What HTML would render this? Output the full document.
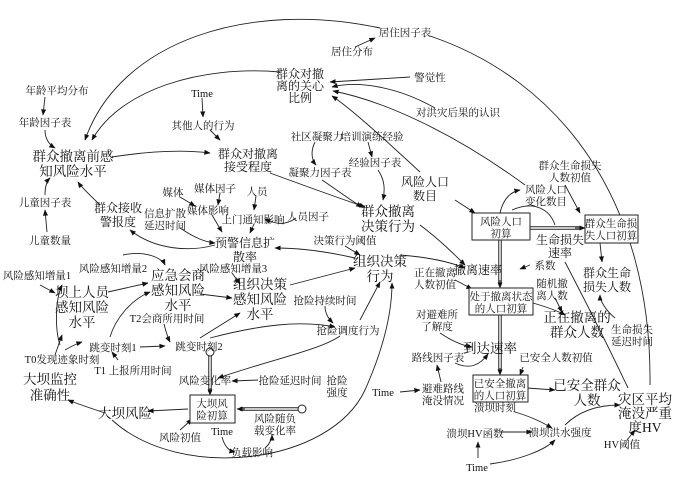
<!DOCTYPE html>
<html><head><meta charset="utf-8"><style>
body{margin:0;background:#fff}
svg{display:block}
text{font-family:"Liberation Serif","Noto Serif CJK SC",serif;fill:#111;text-anchor:middle}
.s{font-size:10.5px}.m{font-size:12px}.b{font-size:13.5px}
path,line{fill:none;stroke:#222;stroke-width:0.9}
.a{marker-end:url(#ar)}
rect{fill:#fff;stroke:#222;stroke-width:1}
.p{stroke:#222;stroke-width:3.5}.pi{stroke:#fff;stroke-width:1.5}
</style></head><body>
<svg width="680" height="479" viewBox="0 0 680 479" xmlns="http://www.w3.org/2000/svg">
<defs><marker id="ar" viewBox="0 0 10 10" refX="9" refY="5" markerWidth="7" markerHeight="7" orient="auto"><path d="M0,1 L10,5 L0,9 z" style="fill:#111;stroke:none"/></marker></defs>

<!-- connectors -->
<path class="a" d="M380,28 C250,0 120,40 85,140"/>
<path d="M430,36 C560,80 652,200 650,385"/>
<path class="a" d="M355,47 L375,38"/>
<path class="a" d="M280,72 C200,65 120,90 92,140"/>
<path class="a" d="M410,77 L330,82"/>
<path class="a" d="M435,108 C400,88 360,80 332,87"/>
<path class="a" d="M420,172 C380,135 350,108 332,96"/>
<path class="a" d="M525,185 C450,130 380,100 333,91"/>
<path class="a" d="M45,97 L43,115"/>
<path class="a" d="M45,130 C45,140 50,145 55,148"/>
<path class="a" d="M202,98 L203,117"/>
<path class="a" d="M210,130 L220,140"/>
<path class="a" d="M112,157 Q170,148 210,153"/>
<path class="a" d="M270,173 Q330,195 365,207"/>
<path class="a" d="M315,142 C310,152 312,160 316,165"/>
<path class="a" d="M368,142 L372,157"/>
<path class="a" d="M322,180 C340,192 350,200 362,207"/>
<path class="a" d="M378,170 C385,180 385,190 383,200"/>
<path class="a" d="M455,200 L475,213"/>
<path class="a" d="M500,213 C503,200 510,192 520,190"/>
<path d="M512,210 C535,200 550,210 555,225"/>
<path class="a" d="M565,185 L580,213"/>
<path class="a" d="M47,232 L45,210"/>
<path class="a" d="M45,195 C45,185 48,180 50,178"/>
<path class="a" d="M100,205 C90,195 82,188 78,182"/>
<path class="a" d="M215,245 C190,252 155,250 130,230"/>
<path class="a" d="M180,197 L195,206"/>
<path class="a" d="M220,193 L218,205"/>
<path class="a" d="M256,196 L254,210"/>
<path class="a" d="M296,218 C285,226 275,224 265,219"/>
<path class="a" d="M212,215 L222,232"/>
<path class="a" d="M254,224 L250,233"/>
<path class="a" d="M180,228 C195,238 205,242 215,243"/>
<path class="a" d="M355,258 C320,250 295,248 275,248"/>
<path class="a" d="M345,246 L360,255"/>
<path class="a" d="M400,255 Q440,258 465,268"/>
<path class="a" d="M420,225 C440,240 455,255 465,265"/>
<path class="a" d="M530,265 L520,269"/>
<path class="a" d="M455,280 C465,285 468,287 472,289"/>
<path class="a" d="M555,298 L562,312"/>
<path class="a" d="M533,303 C550,308 560,312 565,315"/>
<path class="a" d="M440,333 C455,343 465,346 472,347"/>
<path class="a" d="M455,363 C470,370 480,365 488,354"/>
<path class="a" d="M441,382 L437,365"/>
<path class="a" d="M400,392 L420,390"/>
<path class="a" d="M523,367 L520,375"/>
<path class="a" d="M527,388 L555,390"/>
<path class="a" d="M515,412 C535,418 545,424 552,428"/>
<path class="a" d="M500,432 L532,432"/>
<path class="a" d="M478,458 L478,442"/>
<path class="a" d="M490,464 C520,460 545,450 555,440"/>
<path class="a" d="M565,425 C580,410 600,405 620,405"/>
<path class="a" d="M627,440 L635,430"/>
<path d="M565,262 C590,310 610,350 628,388"/>
<path class="a" d="M600,243 L602,262"/>
<path class="a" d="M615,318 C605,310 600,300 600,295"/>
<path class="a" d="M40,285 L55,293"/>
<path class="a" d="M123,255 C145,250 162,258 165,265"/>
<path class="a" d="M232,273 L240,284"/>
<path class="a" d="M108,292 L148,283"/>
<path class="a" d="M200,294 L232,298"/>
<path class="a" d="M290,285 L355,268"/>
<path class="a" d="M325,306 C325,315 330,320 333,323"/>
<path class="a" d="M210,338 C260,325 300,320 335,327"/>
<path class="a" d="M200,338 L240,313"/>
<path class="a" d="M340,336 C320,350 270,360 218,378"/>
<path class="a" d="M360,320 L380,282"/>
<path class="a" d="M112,420 C180,482 330,465 365,390 C385,345 392,310 392,283"/>
<path class="a" d="M258,380 L232,381"/>
<path class="a" d="M60,345 C55,330 55,300 62,285"/>
<path class="a" d="M55,355 L62,335"/>
<path class="a" d="M65,350 C72,346 76,344 82,342"/>
<path class="a" d="M118,360 L112,352"/>
<path class="a" d="M110,337 C115,320 130,300 150,292"/>
<path class="a" d="M140,347 L165,346"/>
<path class="a" d="M164,324 C166,332 168,338 170,342"/>
<path class="a" d="M188,409 L148,411"/>
<path class="a" d="M105,413 C90,408 75,403 68,400"/>
<path class="a" d="M180,430 C186,425 190,421 192,419"/>
<path class="a" d="M222,437 C225,448 230,451 235,452"/>
<path class="a" d="M265,448 C270,444 272,438 272,435"/>

<!-- stock flows -->
<line class="p" x1="210" y1="355" x2="210" y2="392"/><line class="pi" x1="210" y1="355" x2="210" y2="392"/>
<path class="a" d="M210,388 L210,395"/>
<circle cx="210" cy="352" r="4" style="fill:#fff;stroke:#222"/>
<line class="p" x1="300" y1="409" x2="240" y2="409"/><line class="pi" x1="300" y1="409" x2="240" y2="409"/>
<path class="a" d="M245,409 L237,409"/>
<circle cx="302" cy="409" r="4" style="fill:#fff;stroke:#222"/>
<line class="p" x1="500" y1="240" x2="500" y2="284"/><line class="pi" x1="500" y1="240" x2="500" y2="284"/>
<path class="a" d="M500,280 L500,288"/>
<line class="p" x1="500" y1="315" x2="500" y2="371"/><line class="pi" x1="500" y1="315" x2="500" y2="371"/>
<path class="a" d="M500,368 L500,375"/>
<line class="p" x1="530" y1="228" x2="580" y2="228"/><line class="pi" x1="530" y1="228" x2="580" y2="228"/>
<path class="a" d="M575,228 L585,228"/>

<!-- boxes -->
<rect x="472" y="213" width="58" height="27"/>
<rect x="585" y="215" width="53" height="28"/>
<rect x="469" y="288" width="64" height="27"/>
<rect x="473" y="375" width="55" height="27"/>
<rect x="190" y="395" width="45" height="28"/>

<!-- labels -->
<text class="s" x="405" y="36">居住因子表</text>
<text class="s" x="352" y="55">居住分布</text>
<text class="m" x="300" y="78">群众对撤</text><text class="m" x="300" y="90">离的关心</text><text class="m" x="300" y="102">比例</text>
<text class="s" x="430" y="81">警觉性</text>
<text class="s" x="458" y="116">对洪灾后果的认识</text>
<text class="s" x="57" y="94">年龄平均分布</text>
<text class="s" x="45" y="126">年龄因子表</text>
<text class="s" x="202" y="97">Time</text>
<text class="s" x="203" y="129">其他人的行为</text>
<text class="s" x="317" y="140">社区凝聚力</text>
<text class="s" x="372" y="140">培训演练经验</text>
<text class="b" x="73" y="161">群众撤离前感</text><text class="b" x="73" y="176">知风险水平</text>
<text class="m" x="248" y="158">群众对撤离</text><text class="m" x="248" y="171">接受程度</text>
<text class="s" x="320" y="176">凝聚力因子表</text>
<text class="s" x="375" y="166">经验因子表</text>
<text class="m" x="425" y="186">风险人口</text><text class="m" x="425" y="200">数目</text>
<text class="s" x="570" y="169">群众生命损失</text><text class="s" x="570" y="181">人数初值</text>
<text class="s" x="546" y="193">风险人口</text><text class="s" x="546" y="205">变化数目</text>
<text class="b" x="388" y="216">群众撤离</text><text class="b" x="388" y="231">决策行为</text>
<text class="s" x="45" y="206">儿童因子表</text>
<text class="s" x="173" y="196">媒体</text>
<text class="s" x="215" y="192">媒体因子</text>
<text class="s" x="257" y="195">人员</text>
<text class="m" x="118" y="212">群众接收</text><text class="m" x="118" y="226">警报度</text>
<text class="s" x="165" y="217">信息扩散</text><text class="s" x="165" y="229">延迟时间</text>
<text class="s" x="208" y="214">媒体影响</text>
<text class="s" x="253" y="223">上门通知影响</text>
<text class="s" x="308" y="220">人员因子</text>
<text class="s" x="50" y="244">儿童数量</text>
<text class="m" x="245" y="247">预警信息扩</text><text class="m" x="245" y="261">散率</text>
<text class="s" x="345" y="244">决策行为阈值</text>
<text class="s" x="501" y="225">风险人口</text><text class="s" x="501" y="237">初算</text>
<text class="s" x="611" y="227">群众生命损</text><text class="s" x="611" y="239">失人口初算</text>
<text class="m" x="560" y="244">生命损失</text><text class="m" x="560" y="257">速率</text>
<text class="m" x="478" y="274">撤离速率</text>
<text class="s" x="545" y="269">系数</text>
<text class="b" x="380" y="266">组织决策</text><text class="b" x="380" y="281">行为</text>
<text class="s" x="435" y="276">正在撤离</text><text class="s" x="435" y="288">人数初值</text>
<text class="m" x="607" y="277">群众生命</text><text class="m" x="607" y="291">损失人数</text>
<text class="s" x="552" y="287">随机撤</text><text class="s" x="552" y="299">离人数</text>
<text class="s" x="501" y="300">处于撤离状态</text><text class="s" x="501" y="312">的人口初算</text>
<text class="s" x="37" y="279">风险感知增量1</text>
<text class="s" x="113" y="272">风险感知增量2</text>
<text class="s" x="233" y="272">风险感知增量3</text>
<text class="b" x="178" y="280">应急会商</text><text class="b" x="178" y="295">感知风险</text><text class="b" x="178" y="310">水平</text>
<text class="b" x="82" y="297">坝上人员</text><text class="b" x="82" y="312">感知风险</text><text class="b" x="82" y="327">水平</text>
<text class="b" x="260" y="289">组织决策</text><text class="b" x="260" y="304">感知风险</text><text class="b" x="260" y="319">水平</text>
<text class="s" x="325" y="304">抢险持续时间</text>
<text class="b" x="577" y="322">正在撤离的</text><text class="b" x="577" y="337">群众人数</text>
<text class="s" x="437" y="318">对避难所</text><text class="s" x="437" y="330">了解度</text>
<text class="s" x="632" y="333">生命损失</text><text class="s" x="632" y="345">延迟时间</text>
<text class="s" x="167" y="322">T2会商所用时间</text>
<text class="s" x="348" y="334">抢险调度行为</text>
<text class="s" x="113" y="351">跳变时刻1</text>
<text class="s" x="199" y="350">跳变时刻2</text>
<text class="b" x="490" y="353">到达速率</text>
<text class="s" x="438" y="361">路线因子表</text>
<text class="s" x="556" y="361">已安全人数初值</text>
<text class="s" x="62" y="363">T0发现迹象时刻</text>
<text class="s" x="133" y="374">T1 上报所用时间</text>
<text class="s" x="205" y="384">风险变化率</text>
<text class="s" x="290" y="384">抢险延迟时间</text>
<text class="s" x="337" y="384">抢险</text><text class="s" x="337" y="396">强度</text>
<text class="b" x="50" y="384">大坝监控</text><text class="b" x="50" y="400">准确性</text>
<text class="s" x="500" y="387">已安全撤离</text><text class="s" x="500" y="399">的人口初算</text>
<text class="b" x="587" y="390">已安全群众</text><text class="b" x="587" y="405">人数</text>
<text class="b" x="645" y="404">灾区平均</text><text class="b" x="645" y="418">淹没严重</text><text class="b" x="645" y="432">度HV</text>
<text class="s" x="383" y="396">Time</text>
<text class="s" x="443" y="392">避难路线</text><text class="s" x="443" y="404">淹没情况</text>
<text class="b" x="125" y="418">大坝风险</text>
<text class="s" x="212" y="407">大坝风</text><text class="s" x="212" y="419">险初算</text>
<text class="s" x="275" y="422">风险随负</text><text class="s" x="275" y="434">载变化率</text>
<text class="s" x="495" y="411">溃坝时刻</text>
<text class="s" x="180" y="441">风险初值</text>
<text class="s" x="222" y="435">Time</text>
<text class="s" x="475" y="437">溃坝HV函数</text>
<text class="s" x="560" y="436">溃坝洪水强度</text>
<text class="s" x="622" y="448">HV阈值</text>
<text class="s" x="252" y="456">负载影响</text>
<text class="s" x="477" y="471">Time</text>
</svg>
</body></html>
